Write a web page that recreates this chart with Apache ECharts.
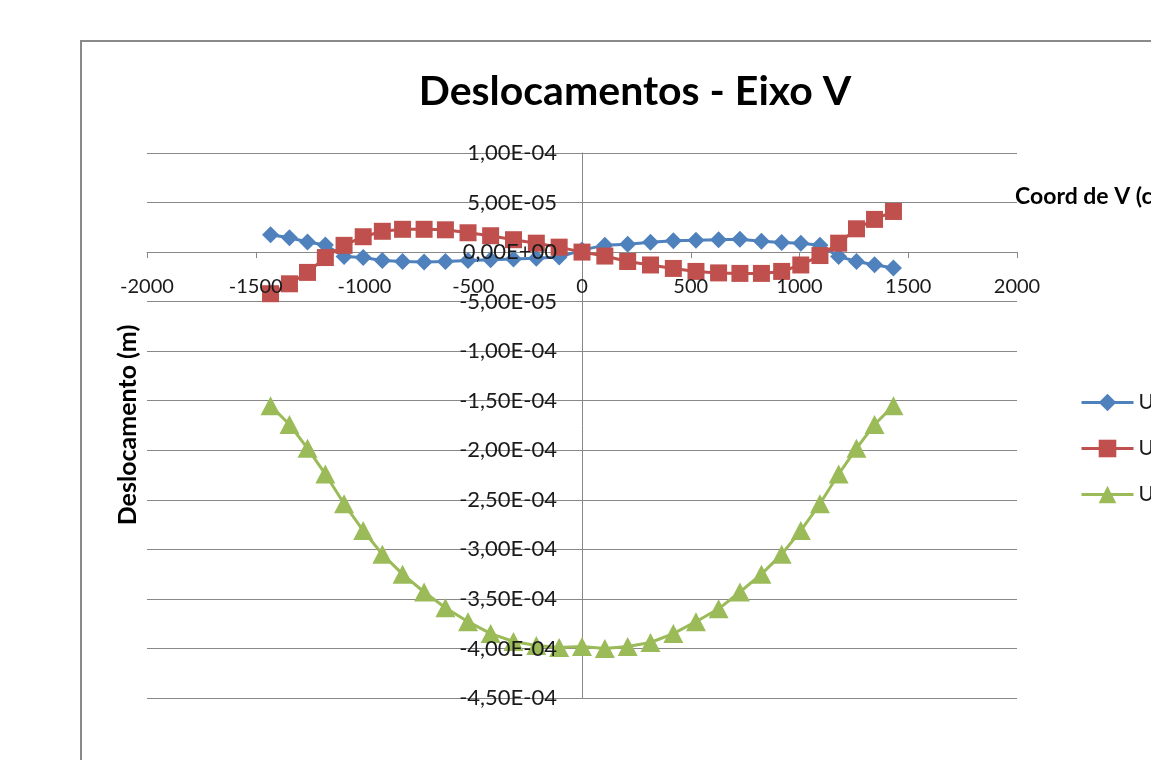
<!DOCTYPE html>
<html>
<head>
<meta charset="utf-8">
<script src="https://cdn.jsdelivr.net/npm/echarts@6/dist/echarts.min.js"></script>
<style>
  html, body { margin: 0; padding: 0; overflow: hidden; background: #ffffff; width: 1151px; height: 760px; }
  #chart { width: 1300px; height: 830px; }
</style>
</head>
<body>
<div id="chart"></div>
<script>
// Node coordinates along axis V (cm)
const coordV = [-1432, -1345, -1262, -1180, -1094, -1006, -918, -825, -726, -628, -524, -420, -315, -210, -105, 0,
                105, 210, 315, 420, 524, 628, 726, 825, 918, 1006, 1094, 1180, 1262, 1345, 1432];

// Displacements (m)
const ux = [1.76e-5, 1.45e-5, 1.02e-5, 0.72e-5, -0.45e-5, -0.55e-5, -0.84e-5, -0.94e-5, -1.0e-5, -0.95e-5, -0.85e-5,
            -0.78e-5, -0.7e-5, -0.62e-5, -0.5e-5, 0.2e-5,
            0.7e-5, 0.8e-5, 1.0e-5, 1.15e-5, 1.2e-5, 1.25e-5, 1.3e-5, 1.1e-5, 0.97e-5, 0.9e-5, 0.7e-5,
            -0.44e-5, -0.94e-5, -1.27e-5, -1.6e-5];
const uy = [-4.2e-5, -3.2e-5, -2.05e-5, -0.55e-5, 0.68e-5, 1.55e-5, 2.1e-5, 2.3e-5, 2.3e-5, 2.25e-5, 1.95e-5,
            1.65e-5, 1.25e-5, 0.9e-5, 0.5e-5, 0,
            -0.4e-5, -0.95e-5, -1.3e-5, -1.65e-5, -1.95e-5, -2.1e-5, -2.15e-5, -2.15e-5, -1.95e-5, -1.3e-5, -0.35e-5,
            0.9e-5, 2.35e-5, 3.3e-5, 4.1e-5];
const uz = [-1.55e-4, -1.74e-4, -1.98e-4, -2.24e-4, -2.54e-4, -2.81e-4, -3.05e-4, -3.25e-4, -3.43e-4, -3.59e-4, -3.73e-4,
            -3.85e-4, -3.93e-4, -3.97e-4, -3.99e-4, -3.98e-4,
            -4.00e-4, -3.98e-4, -3.94e-4, -3.85e-4, -3.73e-4, -3.60e-4, -3.43e-4, -3.25e-4, -3.05e-4, -2.81e-4, -2.54e-4,
            -2.24e-4, -1.98e-4, -1.74e-4, -1.55e-4];

const seriesNames = ['UX', 'UY', 'UZ'];
const seriesColors = ['#4F81BD', '#C0504D', '#9BBB59'];

const titleText = 'Deslocamentos - Eixo V';
const xAxisTitle = 'Coord de V (cm)';
const yAxisTitle = 'Deslocamento (m)';

const X_MIN = -2000, X_MAX = 2000, X_STEP = 500;
const Y_MIN = -4.5e-4, Y_MAX = 1e-4, Y_STEP = 5e-5;

const FONT = 'Lato, "Open Sans", sans-serif';
const GRID_COLOR = '#888888';
const TEXT_COLOR = '#1a1a1a';

// Excel-like scientific label, e.g. -1,50E-04
function sciLabel(v) {
  if (Math.abs(v) < 1e-12) return '0,00E+00';
  const parts = v.toExponential(2).split('e');
  const sign = parts[1][0];
  const exp = parts[1].slice(1).padStart(2, '0');
  return parts[0].replace('.', ',') + 'E' + sign + exp;
}

const pairs = arr => coordV.map((x, i) => [x, arr[i]]);

const chart = echarts.init(document.getElementById('chart'), null, { renderer: 'canvas' });

const gridBox = { left: 147, top: 153, width: 870, height: 545 };

// The label-only axes sit where the crossing axes are (x = 0, y = 0)
const yLabelShift = gridBox.width * (0 - X_MIN) / (X_MAX - X_MIN);
const xLabelShift = gridBox.height * (0 - Y_MIN) / (Y_MAX - Y_MIN);

const option = {
  backgroundColor: '#ffffff',
  animation: false,
  textStyle: { fontFamily: FONT },
  grid: Object.assign({ containLabel: false, outerBoundsMode: 'none' }, gridBox),
  xAxis: [
    {
      type: 'value', min: X_MIN, max: X_MAX, interval: X_STEP, position: 'bottom',
      axisLine: { show: true, onZero: true, lineStyle: { color: GRID_COLOR, width: 1 } },
      axisTick: { show: true, inside: false, length: 6, lineStyle: { color: GRID_COLOR, width: 1 } },
      axisLabel: { show: false },
      splitLine: { show: false }
    },
    {
      // labels only, drawn above the markers
      type: 'value', min: X_MIN, max: X_MAX, interval: X_STEP, position: 'bottom', z: 10,
      offset: -xLabelShift,
      axisLine: { show: false, onZero: false },
      axisTick: { show: false },
      splitLine: { show: false },
      axisLabel: {
        margin: 24, fontSize: 20, color: TEXT_COLOR, fontFamily: FONT,
        formatter: v => String(Math.round(v))
      }
    }
  ],
  yAxis: [
    {
      type: 'value', min: Y_MIN, max: Y_MAX, interval: Y_STEP, position: 'left',
      axisLine: { show: true, onZero: true, lineStyle: { color: GRID_COLOR, width: 1 } },
      axisTick: { show: false },
      axisLabel: { show: false },
      splitLine: { show: true, lineStyle: { color: GRID_COLOR, width: 1 } }
    },
    {
      // labels only, drawn above the markers
      type: 'value', min: Y_MIN, max: Y_MAX, interval: Y_STEP, position: 'left', z: 10,
      offset: -yLabelShift,
      axisLine: { show: false, onZero: false },
      axisTick: { show: false },
      splitLine: { show: false },
      axisLabel: {
        margin: 25, fontSize: 22, color: TEXT_COLOR, fontFamily: FONT,
        formatter: v => sciLabel(v)
      }
    }
  ],
  legend: {
    orient: 'vertical', left: 1075, top: 387,
    itemWidth: 52, itemHeight: 22, itemGap: 25,
    lineStyle: { width: 3 },
    textStyle: { fontSize: 21, color: TEXT_COLOR, fontFamily: FONT },
    data: seriesNames
  },
  series: [
    {
      name: seriesNames[0], type: 'line', data: pairs(ux), xAxisIndex: 0, yAxisIndex: 0,
      symbol: 'diamond', symbolSize: 17, color: seriesColors[0],
      lineStyle: { width: 3, color: seriesColors[0] }, itemStyle: { color: seriesColors[0] }
    },
    {
      name: seriesNames[1], type: 'line', data: pairs(uy), xAxisIndex: 0, yAxisIndex: 0,
      symbol: 'rect', symbolSize: 17, color: seriesColors[1],
      lineStyle: { width: 3, color: seriesColors[1] }, itemStyle: { color: seriesColors[1] }
    },
    {
      name: seriesNames[2], type: 'line', data: pairs(uz), xAxisIndex: 0, yAxisIndex: 0,
      symbol: 'triangle', symbolSize: [20, 19], color: seriesColors[2],
      lineStyle: { width: 3, color: seriesColors[2] }, itemStyle: { color: seriesColors[2] }
    }
  ],
  graphic: [
    {
      type: 'rect', silent: true, z: -1,
      shape: { x: 81, y: 41, width: 1300, height: 900 },
      style: { fill: null, stroke: '#8a8a8a', lineWidth: 2 }
    },
    {
      type: 'text', x: 635, y: 92, silent: true,
      style: { text: titleText, font: 'bold 41px ' + FONT, fill: '#000000', textAlign: 'center', textVerticalAlign: 'middle' }
    },
    {
      type: 'text', x: 1015, y: 197, silent: true,
      style: { text: xAxisTitle, font: 'bold 23px ' + FONT, fill: '#000000', textAlign: 'left', textVerticalAlign: 'middle' }
    },
    {
      type: 'text', x: 128, y: 425, rotation: Math.PI / 2, silent: true,
      style: { text: yAxisTitle, font: 'bold 25px ' + FONT, fill: '#000000', textAlign: 'center', textVerticalAlign: 'middle' }
    }
  ]
};

chart.setOption(option);
</script>
</body>
</html>
